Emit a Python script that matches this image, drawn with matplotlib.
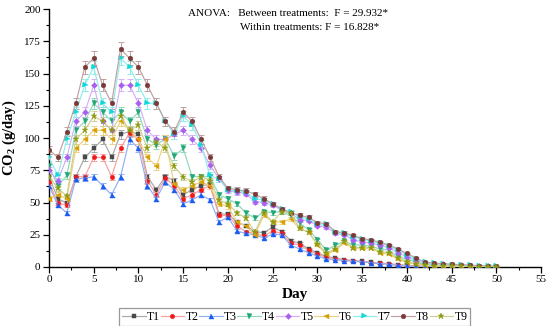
import matplotlib
matplotlib.use("Agg")
import matplotlib.pyplot as plt
import numpy as np

plt.rcParams['font.family'] = ['Liberation Serif', 'DejaVu Serif']
plt.rcParams['mathtext.fontset'] = 'custom'
plt.rcParams['mathtext.rm'] = 'Liberation Serif'
plt.rcParams['mathtext.bf'] = 'Liberation Serif:bold'

days = list(range(0, 51))

T1 = [70, 53, 49.5, 70, 85, 92, 99, 85, 103, 105, 103, 70, 60, 70, 67, 56, 60, 63, 64, 41,
      41, 35, 32, 27.5, 26.5, 31, 27.5, 20.5, 18.5, 14, 11, 8, 7, 5.7, 5, 4.5, 3.6, 3, 2.6, 1.8,
      1.2, 0.8, 0.5, 0.4, 0.3, 0.2, 0.2, 0.1, 0.1, 0.05, 0]
T2 = [66, 49.5, 48, 70, 70, 85, 85, 70, 92, 104, 99, 67, 56, 69, 63, 53, 56, 60, 63, 40,
      40, 32, 27.5, 26, 24, 28, 26, 18.5, 17, 13, 10, 7.4, 6.5, 5.5, 4.8, 4.2, 3.4, 2.8, 2.3, 1.5,
      1, 0.6, 0.4, 0.3, 0.2, 0.2, 0.1, 0.1, 0.05, 0.05, 0]
T3 = [63, 48, 42, 68, 69, 70, 63, 56, 70, 99, 92, 63, 53, 66, 60, 49, 52, 56, 52, 35,
      38.5, 28, 26, 25, 22.5, 25.5, 25, 17, 14, 11, 8.7, 6.2, 5.7, 4.9, 4.5, 4, 3.2, 2.6, 2, 1.2,
      0.8, 0.4, 0.3, 0.2, 0.2, 0.1, 0.1, 0.05, 0.05, 0, 0]
T4 = [78, 63, 71, 106, 113, 127, 120, 113, 120, 113, 120, 99, 95, 99, 86, 92, 70, 70, 70, 56,
      53, 49, 42, 38, 43, 42, 43, 40, 34, 29, 21, 13, 17, 20, 17, 17, 16, 14, 13, 8,
      6, 4, 2, 1.5, 1, 0.8, 0.6, 0.4, 0.3, 0.2, 0.1]
T5 = [75, 67, 85, 113, 120, 141, 113, 106, 141, 141, 127, 106, 99, 99, 103, 106, 99, 92, 79, 68.6,
      59.6, 58, 57, 50.6, 50, 48, 44, 42, 36.5, 36, 32, 31, 26, 25, 21, 19.5, 18.5, 17, 15, 11,
      8, 5, 3, 2.5, 2, 1.5, 1.2, 1, 0.8, 0.5, 0.3]
T6 = [53, 56, 53, 92, 99, 106, 106, 99, 113, 106, 99, 85, 78, 99, 64, 60, 63, 66, 63, 49,
      47, 35, 32, 25, 40, 35, 35, 37, 30, 27, 17, 10, 13, 18.5, 14.6, 14.6, 14.6, 11, 10, 6,
      3.6, 2.6, 1.5, 1, 0.8, 0.6, 0.4, 0.3, 0.2, 0.1, 0]
T7 = [85, 71, 99, 120, 141, 155, 127, 120, 162, 155, 141, 127, 127, 113, 103, 117, 110, 95, 71, 68,
      60, 59, 58, 53, 52, 49, 45, 43, 39, 37, 33.5, 33, 27, 26, 23.5, 21.5, 20, 18.5, 16.5, 13,
      9.5, 6, 3.5, 2.8, 2.3, 1.8, 1.5, 1.2, 0.9, 0.6, 0.4]
T8 = [91, 85, 105, 127, 155, 162, 141, 127, 169, 162, 155, 141, 127, 113, 105, 120, 113, 99, 85, 70,
      61, 60, 59, 56.5, 53, 49, 45, 42, 40, 38.5, 34.5, 33.5, 27.5, 26.5, 24.5, 22, 21, 19, 17, 14,
      10.5, 7, 3.8, 3, 2.6, 2.1, 1.8, 1.5, 1, 0.8, 0.5]
T9 = [70, 61, 55, 99, 106, 117, 113, 106, 117, 106, 110, 92, 97, 92, 78, 70, 66, 70, 67, 52,
      49, 42, 38, 27, 42, 35, 43, 42, 30, 27, 18, 11, 14, 20, 15, 15, 15, 12, 11, 7,
      4, 2.5, 1.5, 1, 0.8, 0.6, 0.4, 0.3, 0.2, 0.1, 0]

labels = ['T1', 'T2', 'T3', 'T4', 'T5', 'T6', 'T7', 'T8', 'T9']
series = [T1, T2, T3, T4, T5, T6, T7, T8, T9]
rel_err = 0.03

marker_colors = ['#4a4a4a', '#f01818', '#1a5cf0', '#20a878', '#a860f0', '#d8a000', '#10d8d8', '#7a3a3a', '#8c9a10']
line_colors = ['#a8a8a8', '#f8a0a0', '#90b0f8', '#90d8b8', '#d4b0f8', '#ecd080', '#90ecec', '#c0a0a0', '#ccd090']
markers = ['s', 'o', '^', 'v', 'D', '<', '>', 'o', '*']
msizes = [3.2, 3.2, 3.6, 3.6, 3.0, 3.6, 3.6, 3.4, 4.5]

fig = plt.figure(figsize=(5.5, 3.26), dpi=100)
ax = fig.add_axes([0.089, 0.181, 0.895, 0.791])

handles = []
for s, lab, mc, lc, mk, ms in zip(series, labels, marker_colors, line_colors, markers, msizes):
    v = np.array(s, dtype=float)
    ax.errorbar(days, v, yerr=v * rel_err + 0.3, fmt='none', ecolor=lc, elinewidth=0.7,
                capsize=2.0, capthick=0.7, zorder=2)
    h, = ax.plot(days, v, color=lc, lw=0.85, marker=mk, markersize=ms,
                 markerfacecolor=mc, markeredgecolor=mc, markeredgewidth=0.3, label=lab, zorder=3)
    handles.append(h)

ax.set_xlim(0, 55)
ax.set_ylim(0, 200)
ax.set_xticks(np.arange(0, 56, 5))
ax.set_xticks(np.arange(0, 56, 2.5), minor=True)
ax.set_yticks(np.arange(0, 201, 25))
ax.set_yticks(np.arange(0, 201, 12.5), minor=True)
ax.spines['top'].set_visible(False)
ax.spines['right'].set_visible(False)
for sp in ['left', 'bottom']:
    ax.spines[sp].set_linewidth(1.0)
ax.tick_params(axis='both', which='major', direction='out', length=4, width=0.9, labelsize=8, pad=2)
ax.tick_params(axis='both', which='minor', direction='out', length=2.2, width=0.8)

ax.set_xlabel('Day', fontsize=11, fontweight='bold', labelpad=3)
ax.set_ylabel(r'$\mathbf{CO_2}$ (g/day)', fontsize=10.5, fontweight='bold', labelpad=4)

ax.text(0.283, 0.984, 'ANOVA:   Between treatments:  F = 29.932*', transform=ax.transAxes,
        fontsize=8, ha='left', va='center')
ax.text(0.388, 0.930, 'Within treatments: F = 16.828*', transform=ax.transAxes,
        fontsize=8, ha='left', va='center')

leg = fig.legend(handles=handles, labels=labels, loc='center', bbox_to_anchor=(0.536, 0.028),
                 ncol=9, fontsize=8.5, frameon=True, fancybox=False, handlelength=2.0,
                 handletextpad=0.1, columnspacing=0.05, borderpad=0.25, borderaxespad=0)
leg.get_frame().set_edgecolor('#808080')
leg.get_frame().set_linewidth(0.9)

fig.savefig('out.png', dpi=100)
